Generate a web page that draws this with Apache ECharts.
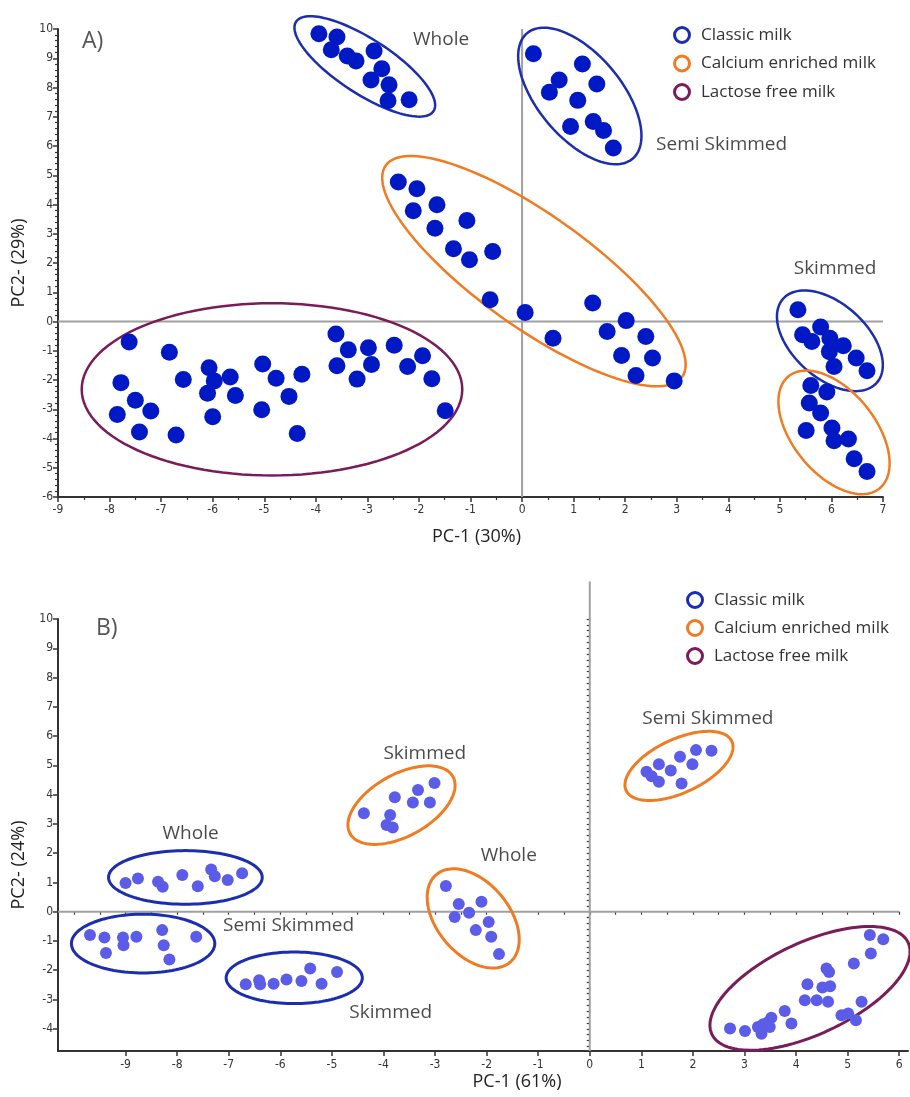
<!DOCTYPE html>
<html>
<head>
<meta charset="utf-8">
<script src="https://cdn.jsdelivr.net/npm/echarts@6/dist/echarts.min.js"></script>
<style>
html,body{margin:0;padding:0;background:#fff;}
#chart{width:910px;height:1097px;}
</style>
</head>
<body>
<div id="chart"></div>
<script>
// ---------------- DATA ----------------
// Panel A: PC-1 (30%) vs PC2 (29%)
const classicWholeA = [[-3.94,9.84],[-3.59,9.73],[-3.70,9.29],[-3.39,9.08],[-3.22,8.91],[-2.87,9.25],[-2.72,8.64],[-2.93,8.26],[-2.58,8.09],[-2.60,7.55],[-2.19,7.58]];
const classicSemiA = [[0.22,9.15],[1.17,8.80],[0.72,8.26],[0.53,7.84],[1.45,8.12],[1.08,7.56],[0.94,6.67],[1.38,6.84],[1.58,6.53],[1.77,5.93]];
const classicSkimA = [[5.35,0.40],[5.44,-0.45],[5.62,-0.68],[5.79,-0.19],[5.97,-0.57],[5.96,-1.03],[6.23,-0.83],[6.05,-1.54],[6.48,-1.25],[6.69,-1.68]];
const calciumMixA = [[-2.40,4.77],[-2.04,4.54],[-2.11,3.79],[-1.65,3.99],[-1.69,3.19],[-1.07,3.45],[-1.33,2.49],[-1.02,2.11],[-0.57,2.39],[-0.62,0.74],[0.06,0.31],[0.60,-0.57],[1.37,0.63],[1.65,-0.34],[2.02,0.03],[2.40,-0.51],[1.93,-1.16],[2.53,-1.25],[2.21,-1.85],[2.95,-2.03]];
const calciumSkimA = [[5.60,-2.19],[5.91,-2.41],[5.57,-2.79],[5.79,-3.13],[5.51,-3.73],[6.01,-3.64],[6.05,-4.08],[6.33,-4.02],[6.44,-4.69],[6.69,-5.13]];
const lactoseA = [[-7.62,-0.70],[-6.84,-1.05],[-7.78,-2.09],[-7.50,-2.69],[-7.20,-3.06],[-7.85,-3.18],[-7.42,-3.78],[-6.71,-3.88],[-6.57,-1.98],[-6.07,-1.58],[-5.97,-2.03],[-6.10,-2.45],[-5.66,-1.90],[-5.56,-2.53],[-6.00,-3.26],[-5.03,-1.45],[-4.77,-1.94],[-5.05,-3.02],[-4.52,-2.56],[-4.27,-1.80],[-4.36,-3.83],[-3.61,-0.43],[-3.37,-0.97],[-2.98,-0.90],[-3.59,-1.51],[-2.92,-1.47],[-3.20,-1.97],[-2.48,-0.81],[-2.22,-1.54],[-1.93,-1.17],[-1.75,-1.96],[-1.49,-3.05]];

// Panel B: PC-1 (61%) vs PC2 (24%)
const classicWholeB = [[-9.00,0.98],[-8.76,1.13],[-8.37,1.02],[-8.28,0.85],[-7.90,1.25],[-7.60,0.87],[-7.34,1.44],[-7.27,1.21],[-7.02,1.08],[-6.74,1.31]];
const classicSemiB = [[-9.69,-0.80],[-9.41,-0.88],[-9.38,-1.41],[-9.05,-0.88],[-9.04,-1.15],[-8.79,-0.86],[-8.29,-0.63],[-8.26,-1.15],[-8.15,-1.63],[-7.63,-0.86]];
const classicSkimB = [[-6.67,-2.48],[-6.41,-2.34],[-6.39,-2.48],[-6.13,-2.46],[-5.88,-2.32],[-5.59,-2.37],[-5.42,-1.94],[-5.20,-2.46],[-4.90,-2.06]];
const calciumSkimB = [[-4.38,3.36],[-3.78,3.91],[-3.87,3.30],[-3.94,2.96],[-3.82,2.88],[-3.43,3.73],[-3.33,4.16],[-3.10,3.73],[-3.01,4.40]];
const calciumWholeB = [[-2.79,0.88],[-2.54,0.26],[-2.10,0.34],[-2.34,-0.04],[-2.62,-0.18],[-1.96,-0.35],[-2.21,-0.63],[-1.91,-0.86],[-1.76,-1.45]];
const calciumSemiB = [[1.10,4.78],[1.34,5.04],[1.20,4.63],[1.34,4.44],[1.57,4.82],[1.75,5.29],[1.78,4.38],[1.99,5.04],[2.06,5.52],[2.36,5.50]];
const lactoseB = [[5.43,-0.80],[5.69,-0.94],[5.45,-1.43],[5.12,-1.77],[4.59,-1.94],[4.64,-2.06],[4.22,-2.48],[4.51,-2.59],[4.66,-2.55],[4.17,-3.03],[4.40,-3.03],[4.62,-3.08],[5.27,-3.08],[3.78,-3.39],[3.91,-3.82],[4.88,-3.54],[5.01,-3.48],[5.16,-3.71],[3.52,-3.62],[3.46,-3.77],[3.36,-3.85],[3.26,-3.94],[3.33,-4.17],[3.49,-3.94],[3.01,-4.08],[2.72,-3.99]];

// Group ellipses: [centre x, centre y, semi-major (x units), semi-minor (x units), tilt deg]
const ellipseClassicA = [[-3.05,8.72,1.59,0.53,33],[1.12,7.71,1.59,0.81,50],[5.97,-0.66,1.22,0.72,42]];
const ellipseCalciumA = [[0.23,1.72,3.53,1.09,35.5],[6.05,-3.79,1.40,0.80,51]];
const ellipseLactoseA = [[-4.85,-2.32,3.69,1.67,0]];
const ellipseClassicB = [[-7.84,1.17,1.49,0.52,0],[-8.66,-1.09,1.39,0.57,0],[-5.73,-2.26,1.32,0.50,0]];
const ellipseCalciumB = [[-3.65,3.64,1.14,0.60,-29],[-2.26,-0.23,1.11,0.70,50],[1.73,4.98,1.13,0.52,-25]];
const ellipseLactoseB = [[4.27,-2.62,2.10,0.89,-25]];

// Reference (zero) lines: [x1, y1, x2, y2]
const zeroLinesA = [[-9,0,7,0],[0,-6,0,10]];
const zeroLinesB = [[-10.31,0,6.0,0],[0,-4.76,0,11.28]];

// Cluster labels: [text, x, y]
const labelsA = [['Whole',-1.57,9.63],['Semi Skimmed',3.87,6.04],['Skimmed',6.07,1.80]];
const labelsB = [['Whole',-7.74,2.68],['Semi Skimmed',-5.84,-0.46],['Skimmed',-3.86,-3.46],['Skimmed',-3.20,5.40],['Whole',-1.57,1.90],['Semi Skimmed',2.29,6.61]];

// Legend / groups
const groups = ['Classic milk','Calcium enriched milk','Lactose free milk'];

// Axis extents and ticks
const xRangeA = [-9, 7], yRangeA = [-6, 10];
const xRangeB = [-10.31, 6.17], yRangeB = [-4.76, 10];
const xTicksB = [-9,-8,-7,-6,-5,-4,-3,-2,-1,0,1,2,3,4,5,6];
const yTicksB = [-4,-3,-2,-1,0,1,2,3,4,5,6,7,8,9,10];
const axisTitles = {xA:'PC-1 (30%)', yA:'PC2- (29%)', xB:'PC-1 (61%)', yB:'PC2- (24%)'};

// ---------------- STYLE ----------------
const groupColors = {'Classic milk':'#1b2db0','Calcium enriched milk':'#f07b22','Lactose free milk':'#7a1b5a'};
const dotA = '#0019c4', dotB = '#5b5ce8';
const FONT = '"Open Sans", Lato, sans-serif';

function ellipseRenderer(color, width) {
  return function (params, api) {
    const c = api.coord([api.value(0), api.value(1)]);
    const ux = api.size([1, 0])[0];
    const a = api.value(2) * ux, b = api.value(3) * ux;
    const th = api.value(4) * Math.PI / 180;
    const pts = [];
    const n = 120;
    for (let i = 0; i < n; i++) {
      const t = i / n * Math.PI * 2;
      const ex = a * Math.cos(t), ey = b * Math.sin(t);
      pts.push([c[0] + ex * Math.cos(th) - ey * Math.sin(th), c[1] + ex * Math.sin(th) + ey * Math.cos(th)]);
    }
    return {type:'polygon', shape:{points:pts}, style:{fill:'none', stroke:color, lineWidth:width}};
  };
}
function lineRenderer(params, api) {
  const p1 = api.coord([api.value(0), api.value(1)]);
  const p2 = api.coord([api.value(2), api.value(3)]);
  return {type:'line', shape:{x1:p1[0], y1:p1[1], x2:p2[0], y2:p2[1]}, style:{stroke:'#a0a0a0', lineWidth:2}};
}

function minorValues(lo, hi, step) {
  const v = [];
  for (let k = Math.ceil(lo / step); k * step <= hi + 1e-9; k++) v.push(+(k * step).toFixed(4));
  return v;
}

const axisLineStyle = {color:'#333', width:2};
const tickLabel = {fontSize:12, color:'#333', fontFamily:'"DejaVu Sans Condensed", "Liberation Sans", sans-serif'};
const nameStyle = {fontSize:18, color:'#222', fontFamily:FONT};

const option = {
  animation:false,
  backgroundColor:'#fff',
  grid:[
    {left:58, right:27, top:29, bottom:600},
    {left:58, right:2, top:619, bottom:46}
  ],
  xAxis:[
    {gridIndex:0, type:'value', min:xRangeA[0], max:xRangeA[1], interval:1,
     axisLine:{onZero:false, lineStyle:axisLineStyle}, axisTick:{length:5, lineStyle:{color:'#333', width:1.5}},
     minorTick:{show:true, splitNumber:2, length:3, lineStyle:{color:'#333', width:1.2}},
     splitLine:{show:false}, axisLabel:Object.assign({margin:7}, tickLabel),
     name:axisTitles.xA, nameLocation:'middle', nameGap:31, nameTextStyle:Object.assign({padding:[0,0,0,12]}, nameStyle)},
    {gridIndex:1, type:'value', min:xRangeB[0], max:xRangeB[1],
     axisLine:{onZero:false, lineStyle:axisLineStyle},
     axisTick:{length:5, customValues:xTicksB, lineStyle:{color:'#333', width:1.5}},
     splitLine:{show:false}, axisLabel:Object.assign({margin:8, customValues:xTicksB}, tickLabel),
     name:axisTitles.xB, nameLocation:'middle', nameGap:22, nameTextStyle:Object.assign({padding:[0,0,0,68]}, nameStyle)},
    {gridIndex:1, type:'value', min:xRangeB[0], max:xRangeB[1], position:'bottom',
     axisLine:{show:false}, axisLabel:{show:false}, splitLine:{show:false},
     axisTick:{length:3, customValues:minorValues(xRangeB[0], xRangeB[1], 0.5), lineStyle:{color:'#333', width:1.2}}}
  ],
  yAxis:[
    {gridIndex:0, type:'value', min:yRangeA[0], max:yRangeA[1], interval:1,
     axisLine:{onZero:false, lineStyle:axisLineStyle}, axisTick:{length:5, lineStyle:{color:'#333', width:1.5}},
     minorTick:{show:true, splitNumber:5, length:3, lineStyle:{color:'#333', width:1.2}},
     splitLine:{show:false}, axisLabel:Object.assign({margin:5}, tickLabel),
     name:axisTitles.yA, nameLocation:'middle', nameGap:27, nameTextStyle:nameStyle},
    {gridIndex:1, type:'value', min:yRangeB[0], max:yRangeB[1],
     axisLine:{onZero:false, lineStyle:axisLineStyle},
     axisTick:{length:5, customValues:yTicksB, lineStyle:{color:'#333', width:1.5}},
     splitLine:{show:false}, axisLabel:Object.assign({margin:5, customValues:yTicksB}, tickLabel),
     name:axisTitles.yB, nameLocation:'middle', nameGap:27, nameTextStyle:Object.assign({padding:[0,60,0,0]}, nameStyle)},
    {gridIndex:1, type:'value', min:yRangeB[0], max:yRangeB[1], position:'left',
     axisLine:{show:false}, axisLabel:{show:false}, splitLine:{show:false},
     axisTick:{length:3, customValues:minorValues(yRangeB[0], yRangeB[1], 0.2), lineStyle:{color:'#333', width:1.2}}}
  ],
  legend:[
    {left:668, top:21, orient:'vertical', itemWidth:28, itemHeight:15, itemGap:10.5, selectedMode:false,
     icon:'circle', textStyle:{fontSize:17, color:'#333', fontFamily:FONT},
     data:groups.map(g => ({name:g, itemStyle:{color:'#fff', borderColor:groupColors[g], borderWidth:3}}))},
    {left:681, top:586, orient:'vertical', itemWidth:28, itemHeight:15, itemGap:10, selectedMode:false,
     icon:'circle', textStyle:{fontSize:17, color:'#333', fontFamily:FONT},
     data:groups.map(g => ({name:g, itemStyle:{color:'#fff', borderColor:groupColors[g], borderWidth:3}}))}
  ],
  graphic:[
    {type:'text', left:82, top:30, style:{text:'A)', fontSize:23, fill:'#555', fontFamily:FONT}},
    {type:'text', left:96, top:617, style:{text:'B)', fontSize:23, fill:'#555', fontFamily:FONT}}
  ],
  series:[]
};

function addPanel(idx, xi, yi, lines, ell, pts, dotColor, dotSize, labels, ellWidth) {
  option.series.push({type:'custom', xAxisIndex:xi, yAxisIndex:yi, renderItem:lineRenderer, data:lines, z:1, silent:true, clip:false, encode:{x:0, y:1}});
  groups.forEach((g, k) => {
    option.series.push({name:g, type:'custom', xAxisIndex:xi, yAxisIndex:yi, renderItem:ellipseRenderer(groupColors[g], ellWidth),
      data:ell[k], z:2, silent:true, clip:false, encode:{x:0, y:1}, itemStyle:{color:groupColors[g]}});
  });
  pts.forEach(d => {
    option.series.push({type:'scatter', xAxisIndex:xi, yAxisIndex:yi, data:d, symbolSize:dotSize, z:3, silent:true,
      itemStyle:{color:dotColor, opacity:1}});
  });
  option.series.push({type:'scatter', xAxisIndex:xi, yAxisIndex:yi, z:4, silent:true, symbolSize:1,
    itemStyle:{color:'rgba(0,0,0,0)'},
    label:{show:true, position:'inside', formatter:'{b}', fontSize:19, color:'#1a1a1a', fontFamily:FONT},
    data:labels.map(l => ({name:l[0], value:[l[1], l[2]]}))});
}

addPanel(0, 0, 0, zeroLinesA, [ellipseClassicA, ellipseCalciumA, ellipseLactoseA],
  [classicWholeA, classicSemiA, classicSkimA, calciumMixA, calciumSkimA, lactoseA], dotA, 17, labelsA, 2.5);
addPanel(1, 1, 1, zeroLinesB, [ellipseClassicB, ellipseCalciumB, ellipseLactoseB],
  [classicWholeB, classicSemiB, classicSkimB, calciumSkimB, calciumWholeB, calciumSemiB, lactoseB], dotB, 12, labelsB, 3);

const chart = echarts.init(document.getElementById('chart'), null, {renderer:'canvas'});
chart.setOption(option);
</script>
</body>
</html>
